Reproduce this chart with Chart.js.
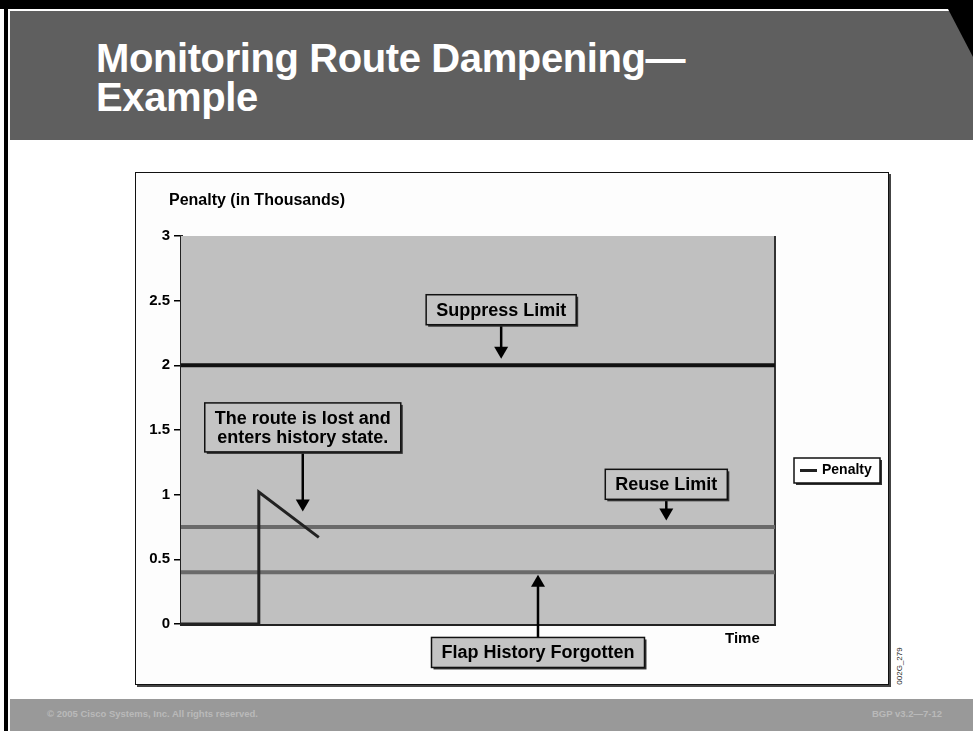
<!DOCTYPE html>
<html lang="en">
<head>
    <meta charset="UTF-8">
    <title>Monitoring Route Dampening</title>
    <style>
        body { margin: 0; width: 973px; height: 731px; position: relative; background: #fff; overflow: hidden;
               font-family: "Liberation Sans", Arial, sans-serif; }
        #topBar { position: absolute; left: 0; top: 0; width: 973px; height: 9px; background: #000; }
        #leftBar { position: absolute; left: 4px; top: 0; width: 4px; height: 731px; background: #000; }
        #header { position: absolute; left: 10px; top: 11px; width: 963px; height: 129px; background: #5f5f5f; }
        #corner { position: absolute; left: 948px; top: 9px; width: 0; height: 0;
                  border-left: 25px solid transparent; border-top: 48px solid #000; }
        #title { position: absolute; left: 96px; top: 39px; color: #fff; font-size: 40px; font-weight: bold;
                 line-height: 39px; letter-spacing: -0.4px; }
        #footer { position: absolute; left: 10px; top: 699px; width: 963px; height: 32px; background: #999; }
        .foot { position: absolute; top: 708px; color: #b9b9b9; font-size: 9.5px; font-weight: bold; }
        #chartBox { position: absolute; left: 135px; top: 172px; width: 752px; height: 511px;
                    border: 1.5px solid #111; background: #fdfdfd; box-shadow: 2px 2px 0 #444; }
        #chart-container { position: absolute; left: 135px; top: 172px; width: 754px; height: 513px; }
        #code { position: absolute; left: 876px; top: 661px; width: 48px; height: 10px; line-height: 10px;
                font-size: 8px; color: #222; text-align: center; transform: rotate(-90deg); }
    </style>
</head>
<body>
    <div id="topBar"></div>
    <div id="leftBar"></div>
    <div id="header"></div>
    <div id="corner"></div>
    <div id="title">Monitoring Route Dampening—<br>Example</div>
    <div id="chartBox"></div>
    <div id="chart-container">
        <canvas id="dampChart" width="754" height="513"></canvas>
    </div>
    <div id="code">002G_279</div>
    <div id="footer"></div>
    <div class="foot" style="left:47px;">© 2005 Cisco Systems, Inc. All rights reserved.</div>
    <div class="foot" style="left:872px;">BGP v3.2—7-12</div>
    <script src="https://cdn.jsdelivr.net/npm/chart.js"></script>
    <script>
        // data (time in arbitrary units 0-100, penalty in thousands)
        const penaltyTime = [0, 13.1, 13.1, 23.2];
        const penaltyValue = [0, 0, 1.02, 0.67];
        const suppressLimit = 2;
        const reuseLimit = 0.75;
        const flapForgotten = 0.4;
        const yTicks = [0, 0.5, 1, 1.5, 2, 2.5, 3];

        const annotations = [
            { lines: ['Suppress Limit'], x: 53.9, y: 2.43, tip: 2.05 },
            { lines: ['The route is lost and', 'enters history state.'], x: 20.5, y: 1.52, tip: 0.87 },
            { lines: ['Reuse Limit'], x: 81.7, y: 1.08, tip: 0.80 },
            { lines: ['Flap History Forgotten'], x: 60.1, y: -0.22, tip: 0.38 }
        ];

        const FONT = '"Liberation Sans", Arial, sans-serif';

        const flat = (v) => [{ x: 0, y: v }, { x: 100, y: v }];

        const slidePlugin = {
            id: 'slide',
            beforeDatasetsDraw(chart) {
                const { ctx, chartArea: a } = chart;
                ctx.save();
                ctx.fillStyle = '#c0c0c0';
                ctx.fillRect(a.left, a.top, a.right - a.left, a.bottom - a.top);
                ctx.strokeStyle = '#333';
                ctx.lineWidth = 2;
                ctx.beginPath();
                ctx.moveTo(a.right, a.top);
                ctx.lineTo(a.right, a.bottom);
                ctx.stroke();
                ctx.restore();
            },
            afterDraw(chart) {
                const { ctx } = chart;
                const xs = chart.scales.x, ys = chart.scales.y;
                ctx.save();
                ctx.font = 'bold 16px ' + FONT;
                ctx.fillStyle = '#000';
                ctx.textBaseline = 'middle';
                ctx.fillText('Penalty (in Thousands)', 34, 29);
                ctx.font = 'bold 15px ' + FONT;
                ctx.fillText('Time', 590, 467);

                // annotation boxes with arrows
                ctx.font = 'bold 18px ' + FONT;
                annotations.forEach(an => {
                    const cx = xs.getPixelForValue(an.x);
                    const cy = ys.getPixelForValue(an.y);
                    const w = Math.max(...an.lines.map(l => ctx.measureText(l).width)) + 20;
                    const h = an.lines.length * 19 + 11;
                    const left = cx - w / 2, top = cy - h / 2;
                    const tipY = ys.getPixelForValue(an.tip);
                    const down = tipY > cy;
                    const startY = down ? top + h : top;
                    ctx.strokeStyle = '#000';
                    ctx.fillStyle = '#000';
                    ctx.lineWidth = 2.5;
                    ctx.beginPath();
                    ctx.moveTo(cx, startY);
                    ctx.lineTo(cx, down ? tipY - 10 : tipY + 10);
                    ctx.stroke();
                    ctx.beginPath();
                    ctx.moveTo(cx - 7, down ? tipY - 12 : tipY + 12);
                    ctx.lineTo(cx + 7, down ? tipY - 12 : tipY + 12);
                    ctx.lineTo(cx, tipY);
                    ctx.closePath();
                    ctx.fill();

                    ctx.fillStyle = '#333';
                    ctx.fillRect(left + 2, top + 2, w, h);
                    ctx.fillStyle = '#c4c4c4';
                    ctx.fillRect(left, top, w, h);
                    ctx.lineWidth = 1.5;
                    ctx.strokeStyle = '#111';
                    ctx.strokeRect(left, top, w, h);
                    ctx.fillStyle = '#000';
                    ctx.textAlign = 'center';
                    an.lines.forEach((l, i) => {
                        ctx.fillText(l, cx, top + 6 + 10 + i * 19);
                    });
                    ctx.textAlign = 'left';
                });

                // legend
                const lx = 659, ly = 286, lw = 86, lh = 25;
                ctx.fillStyle = '#333';
                ctx.fillRect(lx + 2, ly + 2, lw, lh);
                ctx.fillStyle = '#fff';
                ctx.fillRect(lx, ly, lw, lh);
                ctx.strokeStyle = '#111';
                ctx.lineWidth = 1.5;
                ctx.strokeRect(lx, ly, lw, lh);
                const ds = chart.data.datasets[0];
                ctx.strokeStyle = ds.borderColor;
                ctx.lineWidth = 3;
                ctx.beginPath();
                ctx.moveTo(lx + 6, ly + lh / 2);
                ctx.lineTo(lx + 23, ly + lh / 2);
                ctx.stroke();
                ctx.fillStyle = '#000';
                ctx.font = 'bold 14px ' + FONT;
                ctx.fillText(ds.label, lx + 28, ly + lh / 2);
                ctx.restore();
            }
        };

        const ctx = document.getElementById('dampChart').getContext('2d');
        const chart = new Chart(ctx, {
            type: 'line',
            data: {
                datasets: [{
                    label: 'Penalty',
                    data: penaltyTime.map((t, i) => ({ x: t, y: penaltyValue[i] })),
                    borderColor: '#222',
                    borderWidth: 3,
                    pointRadius: 0,
                    tension: 0,
                    fill: false
                }, {
                    label: 'Suppress Limit',
                    data: flat(suppressLimit),
                    borderColor: '#111',
                    borderWidth: 4,
                    pointRadius: 0
                }, {
                    label: 'Reuse Limit',
                    data: flat(reuseLimit),
                    borderColor: '#6a6a6a',
                    borderWidth: 4,
                    pointRadius: 0
                }, {
                    label: 'Flap History Forgotten',
                    data: flat(flapForgotten),
                    borderColor: '#6a6a6a',
                    borderWidth: 4,
                    pointRadius: 0
                }]
            },
            options: {
                responsive: false,
                animation: false,
                layout: { padding: { top: 64, right: 114, left: 0, bottom: 0 } },
                plugins: {
                    legend: { display: false },
                    tooltip: { enabled: false }
                },
                scales: {
                    x: {
                        type: 'linear',
                        min: 0,
                        max: 100,
                        ticks: { display: false },
                        grid: { display: false },
                        border: { color: '#222', width: 3 },
                        afterFit: (s) => { s.height = 61; }
                    },
                    y: {
                        min: 0,
                        max: 3,
                        afterBuildTicks: (s) => { s.ticks = yTicks.map(v => ({ value: v })); },
                        ticks: {
                            color: '#000',
                            font: { family: FONT, size: 15, weight: 'bold' },
                            padding: 4,
                            callback: (v) => String(v)
                        },
                        grid: { drawOnChartArea: false, drawTicks: true, tickLength: 7, color: '#000', lineWidth: 1.5 },
                        border: { color: '#222', width: 3 },
                        afterFit: (s) => { s.width = 46; }
                    }
                }
            },
            plugins: [slidePlugin]
        });
    </script>
</body>
</html>
